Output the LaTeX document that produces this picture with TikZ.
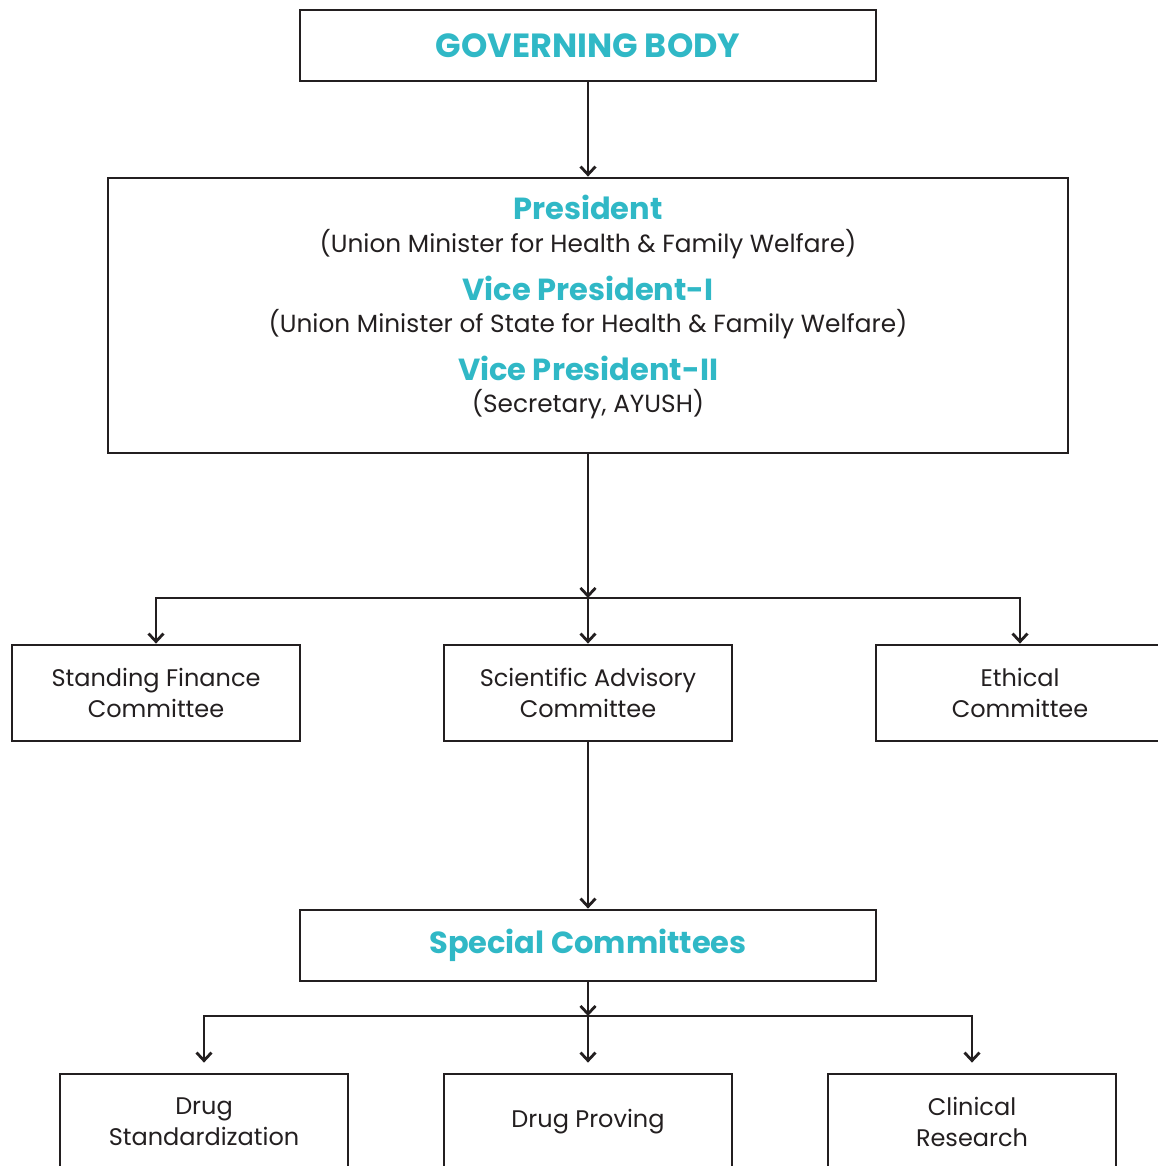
\documentclass[tikz,border=0pt]{standalone}
\usepackage{fontspec}
\setmainfont{Poppins}
\usetikzlibrary{arrows.meta}
\definecolor{headcyan}{RGB}{48,184,198}
\definecolor{inkline}{RGB}{35,31,32}

\tikzset{
  box/.style={draw=inkline, line width=2.8pt, minimum width=288pt, minimum height=96pt, inner sep=0pt, align=center, text=inkline, font=\fontsize{24}{31}\selectfont},
  headbox/.style={box, minimum width=576pt, minimum height=71pt, text=headcyan, font=\bfseries\fontsize{30.5}{31}\selectfont},
  headtext/.style={text=headcyan, font=\bfseries\fontsize{30.5}{31}\selectfont, inner sep=0pt},
  subtext/.style={text=inkline, font=\fontsize{24.8}{31}\selectfont, inner sep=0pt},
  link/.style={draw=inkline, line width=2.8pt, -{Straight Barb[length=8pt,width=15pt,line width=2.8pt]}}
}

\begin{document}
\begin{tikzpicture}[x=1pt,y=-1pt]
  \useasboundingbox (0,0) rectangle (1157,1166);

  % top of the chart
  \node[headbox, font=\bfseries\fontsize{33.5}{31}\selectfont] (gb) at (588,45.5) {GOVERNING BODY};
  \node[box, minimum width=960pt, minimum height=275pt] (council) at (588,315.5) {};

  \node[headtext, anchor=base] (pres) at (588,220) {President};
  \node[subtext, anchor=base] (presrole) at (588,252) {(Union Minister for Health \& Family Welfare)};
  \node[headtext, anchor=base] (vpone) at (588,300) {Vice President-I};
  \node[subtext, anchor=base] (vponerole) at (588,332) {(Union Minister of State for Health \& Family Welfare)};
  \node[headtext, anchor=base] (vptwo) at (588,380) {Vice President-II};
  \node[subtext, anchor=base] (vptworole) at (588,412) {(Secretary, AYUSH)};

  % committees
  \node[box] (sfc) at (156,693) {Standing Finance\\Committee};
  \node[box] (sac) at (588,693) {Scientific Advisory\\Committee};
  \node[box] (ec) at (1020,693) {Ethical\\Committee};

  \node[headbox] (spc) at (588,945.5) {Special Committees};

  \node[box] (dstd) at (204,1122) {Drug\\Standardization};
  \node[box] (dprov) at (588,1122) {Drug Proving};
  \node[box] (clin) at (972,1122) {Clinical\\Research};

  \coordinate (hub) at (588,598);
  \coordinate (hublow) at (588,1016);

  % connectors
  \draw[link] (gb.south) -- (council.north);
  \draw[link] (council.south) -- (hub);
  \draw[link] (hub) -- (sac.north);
  \draw[link] (hub) -| (sfc.north);
  \draw[link] (hub) -| (ec.north);
  \draw[link] (sac.south) -- (spc.north);
  \draw[link] (spc.south) -- (hublow);
  \draw[link, shorten >=10pt] (hublow) -- (dprov.north);
  \draw[link, shorten >=10pt] (hublow) -| (dstd.north);
  \draw[link, shorten >=10pt] (hublow) -| (clin.north);
\end{tikzpicture}
\end{document}
